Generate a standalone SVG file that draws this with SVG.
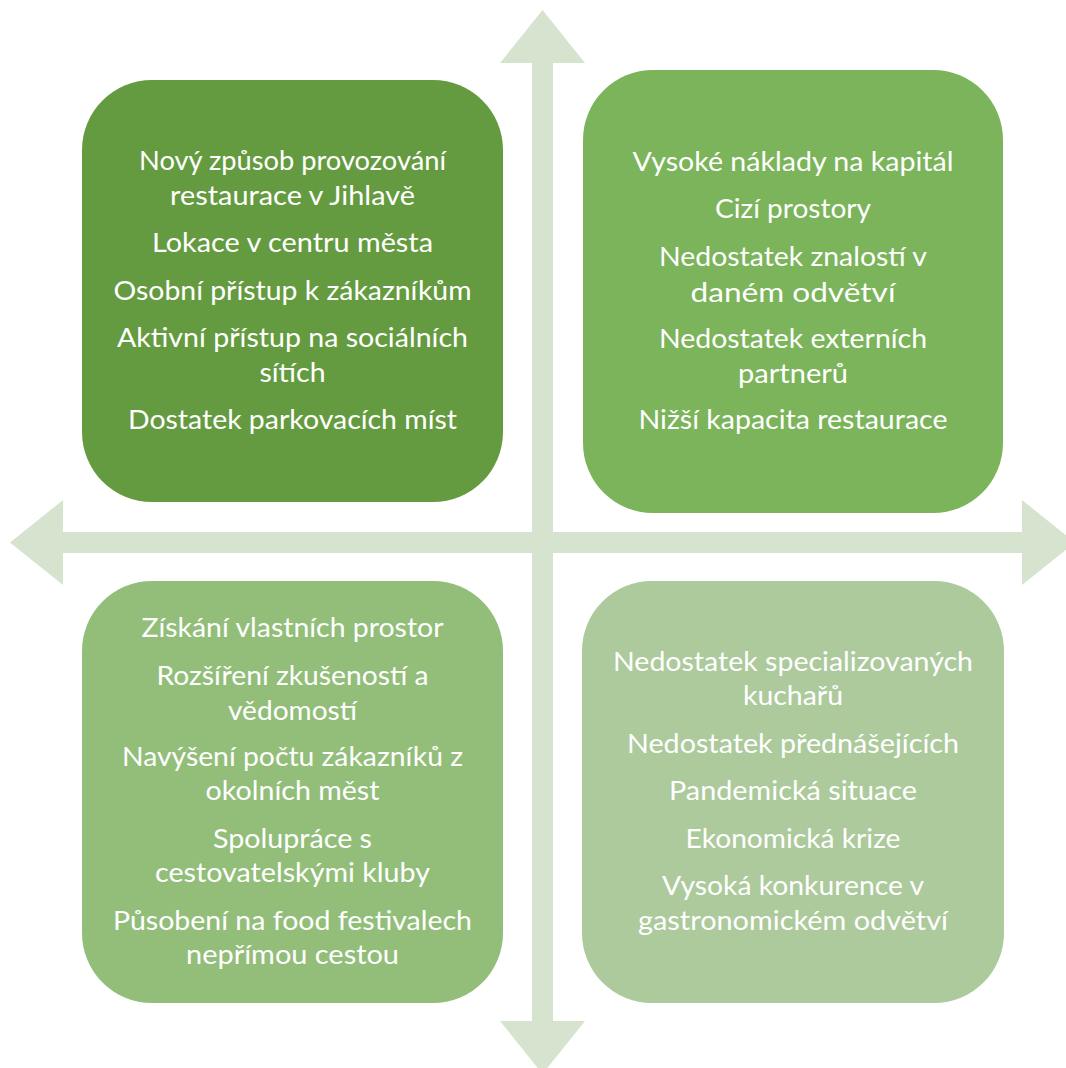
<svg xmlns="http://www.w3.org/2000/svg" width="1066" height="1068" viewBox="0 0 1066 1068">
<style>
.box{stroke:none}
.t{font-family:Lato,"Open Sans","Liberation Sans",sans-serif;font-size:27.5px;font-weight:400;fill:#ffffff;text-anchor:middle}
.arrow{fill:#D5E3CF;stroke:none}
</style>
<rect width="1066" height="1068" fill="#ffffff"/>
<g id="connectors">
<polygon class="arrow" points="10,542.5 63,500 63,532 1022,532 1022,500 1075,542.5 1022,585 1022,553 63,553 63,585"/>
<polygon class="arrow" points="542.5,10 585,63 553,63 553,1021 585,1021 542.5,1074 500,1021 532,1021 532,63 500,63"/>
</g>
<g id="strengths">
<rect class="box" x="82" y="80" width="421" height="422" rx="70" ry="70" fill="#659B40"/>
<text class="t" x="292.5" y="170" textLength="307" lengthAdjust="spacingAndGlyphs">Nový způsob provozování</text>
<text class="t" x="292.5" y="205" textLength="245" lengthAdjust="spacingAndGlyphs">restaurace v Jihlavě</text>
<text class="t" x="292.5" y="252" textLength="281" lengthAdjust="spacingAndGlyphs">Lokace v centru města</text>
<text class="t" x="292.5" y="300" textLength="358" lengthAdjust="spacingAndGlyphs">Osobní přístup k zákazníkům</text>
<text class="t" x="292.5" y="347" textLength="351" lengthAdjust="spacingAndGlyphs">Aktivní přístup na sociálních</text>
<text class="t" x="292.5" y="382" textLength="66" lengthAdjust="spacingAndGlyphs">sítích</text>
<text class="t" x="292.5" y="429" textLength="329" lengthAdjust="spacingAndGlyphs">Dostatek parkovacích míst</text>
</g>
<g id="weaknesses">
<rect class="box" x="583" y="70" width="420" height="443" rx="70" ry="70" fill="#7BB45A"/>
<text class="t" x="793" y="171" textLength="321" lengthAdjust="spacingAndGlyphs">Vysoké náklady na kapitál</text>
<text class="t" x="793" y="218" textLength="156" lengthAdjust="spacingAndGlyphs">Cizí prostory</text>
<text class="t" x="793" y="266" textLength="268" lengthAdjust="spacingAndGlyphs">Nedostatek znalostí v</text>
<text class="t" x="793" y="302" textLength="205" lengthAdjust="spacingAndGlyphs">daném odvětví</text>
<text class="t" x="793" y="348" textLength="268" lengthAdjust="spacingAndGlyphs">Nedostatek externích</text>
<text class="t" x="793" y="383" textLength="110" lengthAdjust="spacingAndGlyphs">partnerů</text>
<text class="t" x="793" y="429" textLength="309" lengthAdjust="spacingAndGlyphs">Nižší kapacita restaurace</text>
</g>
<g id="opportunities">
<rect class="box" x="82" y="581" width="421" height="422" rx="70" ry="70" fill="#92BE7A"/>
<text class="t" x="292.5" y="637" textLength="302" lengthAdjust="spacingAndGlyphs">Získání vlastních prostor</text>
<text class="t" x="292.5" y="685" textLength="272" lengthAdjust="spacingAndGlyphs">Rozšíření zkušeností a</text>
<text class="t" x="292.5" y="720" textLength="129" lengthAdjust="spacingAndGlyphs">vědomostí</text>
<text class="t" x="292.5" y="766" textLength="341" lengthAdjust="spacingAndGlyphs">Navýšení počtu zákazníků z</text>
<text class="t" x="292.5" y="800" textLength="174" lengthAdjust="spacingAndGlyphs">okolních měst</text>
<text class="t" x="292.5" y="848" textLength="159" lengthAdjust="spacingAndGlyphs">Spolupráce s</text>
<text class="t" x="292.5" y="882" textLength="275" lengthAdjust="spacingAndGlyphs">cestovatelskými kluby</text>
<text class="t" x="292.5" y="930" textLength="359" lengthAdjust="spacingAndGlyphs">Působení na food festivalech</text>
<text class="t" x="292.5" y="964" textLength="213" lengthAdjust="spacingAndGlyphs">nepřímou cestou</text>
</g>
<g id="threats">
<rect class="box" x="582" y="581" width="422" height="422" rx="70" ry="70" fill="#ADCA9C"/>
<text class="t" x="793" y="671" textLength="360" lengthAdjust="spacingAndGlyphs">Nedostatek specializovaných</text>
<text class="t" x="793" y="705" textLength="100" lengthAdjust="spacingAndGlyphs">kuchařů</text>
<text class="t" x="793" y="753" textLength="332" lengthAdjust="spacingAndGlyphs">Nedostatek přednášejících</text>
<text class="t" x="793" y="800" textLength="248" lengthAdjust="spacingAndGlyphs">Pandemická situace</text>
<text class="t" x="793" y="848" textLength="215" lengthAdjust="spacingAndGlyphs">Ekonomická krize</text>
<text class="t" x="793" y="895" textLength="262" lengthAdjust="spacingAndGlyphs">Vysoká konkurence v</text>
<text class="t" x="793" y="930" textLength="310" lengthAdjust="spacingAndGlyphs">gastronomickém odvětví</text>
</g>
</svg>
